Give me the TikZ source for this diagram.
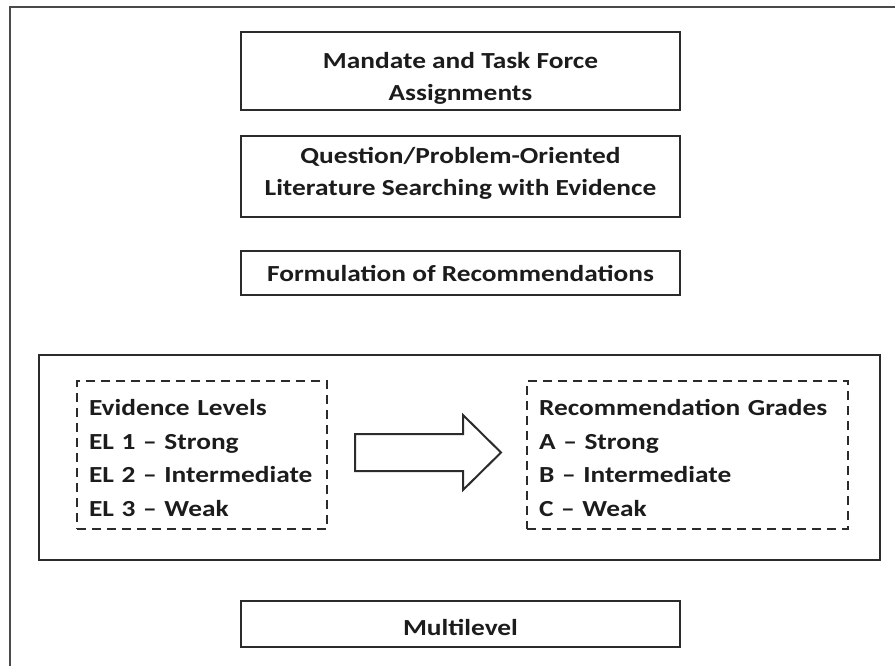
\documentclass[tikz,border=0pt]{standalone}
\usepackage{fontspec}
\setmainfont{Carlito}[FakeStretch=1.19]
\definecolor{frameline}{HTML}{4A4A4A}
\definecolor{boxline}{HTML}{2B2B2B}
\definecolor{inktext}{HTML}{1C1C1C}
\newcommand{\toppad}[1]{\rule{0pt}{#1}}
\tikzset{
	stepbox/.style={draw=boxline, line width=1pt, minimum width=219.5pt, inner sep=0pt,
		align=center, text=inktext, font=\bfseries\fontsize{11.5}{16}\selectfont},
	levelbox/.style={draw=boxline, line width=0.8pt, dash pattern=on 4.5pt off 3pt,
		minimum height=74pt, inner xsep=6pt, inner ysep=0pt, align=left,
		text=inktext, font=\bfseries\fontsize{11.5}{16.8}\selectfont},
}
\begin{document}
\begin{tikzpicture}[x=0.5pt, y=-0.5pt]
			\useasboundingbox (0, 0) rectangle (895, 666);
			\draw [frameline, line width=0.75pt] (10, 666) |- (895, 7);

			\node [stepbox, minimum height=39pt] (mandate) at (460.5, 71)
				{\toppad{15pt}Mandate and Task Force\\Assignments};
			\node [stepbox, minimum height=40.5pt] (search) at (460.5, 176.5)
				{Question/Problem-Oriented\\Literature Searching with Evidence\rule[-5.5pt]{0pt}{0pt}};
			\node [stepbox, minimum height=22pt] (formulate) at (460.5, 273)
				{Formulation of Recommendations};

			\node [draw=boxline, line width=1pt, minimum width=420.5pt, minimum height=102.5pt]
				(grading) at (459.5, 457.5) {};
			\node [levelbox, text width=113pt] (levels) at (202, 455)
				{\toppad{11pt}Evidence Levels\\EL 1 -- Strong\\EL 2 -- Intermediate\\EL 3 -- Weak};
			\node [levelbox, text width=148.5pt] (grades) at (687.5, 455)
				{\toppad{11pt}Recommendation Grades\\A -- Strong\\B -- Intermediate\\C -- Weak};
			\draw [boxline, line width=1pt, line join=miter] (355, 434) -- (463, 434) -- (463, 415)
				-- (501, 452.5) -- (463, 490) -- (463, 471) -- (355, 471) -- cycle;

			\node [stepbox, minimum height=23pt] (multilevel) at (460.5, 624)
				{\toppad{11.5pt}Multilevel};
		\end{tikzpicture}
\end{document}
